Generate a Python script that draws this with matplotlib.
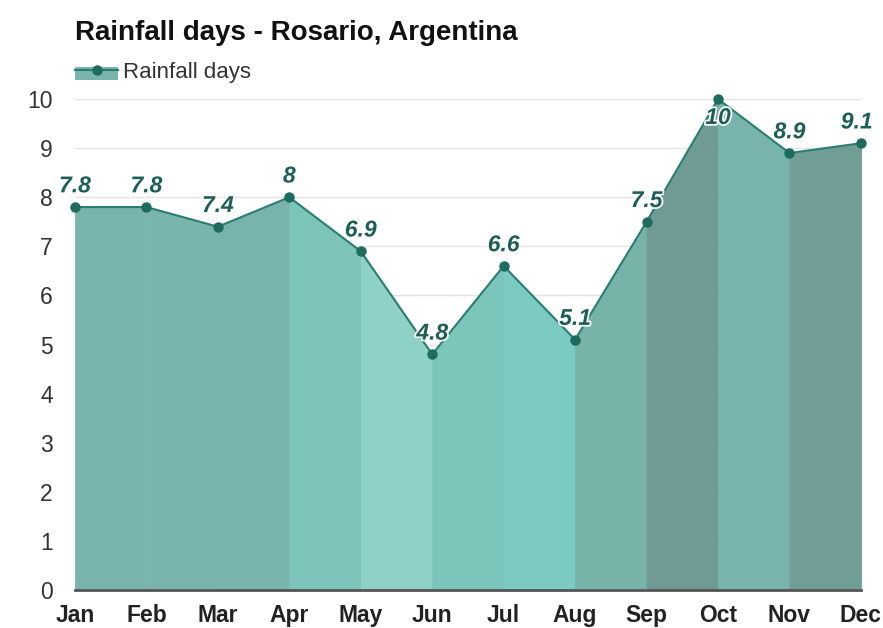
import matplotlib.pyplot as plt
import matplotlib.patheffects as pe
from matplotlib.patches import Rectangle
from matplotlib.lines import Line2D

months = ['Jan', 'Feb', 'Mar', 'Apr', 'May', 'Jun', 'Jul', 'Aug', 'Sep', 'Oct', 'Nov', 'Dec']
rain_days = [7.8, 7.8, 7.4, 8.0, 6.9, 4.8, 6.6, 5.1, 7.5, 10.0, 8.9, 9.1]
labels = ['7.8', '7.8', '7.4', '8', '6.9', '4.8', '6.6', '5.1', '7.5', '10', '8.9', '9.1']
# fill colour of each month-to-month band
band_colors = ['#79b5ac', '#79b5ac', '#78b4ab', '#7cc3b9', '#8fd0c7', '#7bc5bb',
               '#7bcbc0', '#77b3a9', '#6f9b94', '#78b4ab', '#709d96']

plt.rcParams['font.family'] = ['Liberation Sans', 'DejaVu Sans']

fig = plt.figure(figsize=(8.83, 6.28), dpi=100)
ax = fig.add_axes([0.0849, 0.0605, 0.8901, 0.7818])

x = list(range(len(months)))

# area, one band per interval
for i in range(len(x) - 1):
    ax.fill_between(x[i:i + 2], rain_days[i:i + 2], 0, facecolor=band_colors[i],
                    edgecolor=band_colors[i], linewidth=0.6, zorder=2)

ax.plot(x, rain_days, color='#2b7d71', linewidth=1.5, zorder=3)
ax.plot(x, rain_days, 'o', color='#1e6b5f', markersize=6.5, zorder=4, clip_on=False)

# value labels
halo = [pe.withStroke(linewidth=2.5, foreground='white')]
for i, (v, t) in enumerate(zip(rain_days, labels)):
    dx, dy, va = 0, 7, 'bottom'
    if v == max(rain_days):
        dy, va = -5, 'top'
    if i == len(x) - 1:
        dx = -3
    ax.annotate(t, (x[i], v), xytext=(dx, dy), textcoords='offset points',
                ha='center', va=va, fontsize=16.5, fontweight='bold', fontstyle='italic',
                color='#1f5e56', zorder=5, path_effects=halo)

ax.set_xlim(0, len(x) - 1)
ax.set_ylim(0, 10)
ax.set_yticks(range(0, 11))
ax.set_xticks(x)
ax.set_xticklabels(months, fontsize=16.5, fontweight='bold', color='#222222')
ax.tick_params(axis='x', length=0, pad=10)
ax.tick_params(axis='y', length=0, pad=16, labelsize=16.5, labelcolor='#333333')

ax.grid(axis='y', color='#e4e4e4', linewidth=1, zorder=0)
ax.set_axisbelow(True)
for s in ['top', 'right', 'left']:
    ax.spines[s].set_visible(False)
ax.spines['bottom'].set_color('#555555')
ax.spines['bottom'].set_linewidth(2)
ax.spines['bottom'].set_zorder(6)

fig.text(0.0849, 0.947, 'Rainfall days - Rosario, Argentina', fontsize=20, fontweight='bold',
         color='#111111', va='center', ha='left')

# legend
fig.add_artist(Rectangle((0.0849, 0.873), 0.0487, 0.0205, transform=fig.transFigure,
                         facecolor='#79b5ac', edgecolor='none'))
fig.add_artist(Line2D([0.0849, 0.1336], [0.889, 0.889], transform=fig.transFigure,
                      color='#2b7d71', linewidth=1.5))
fig.add_artist(Line2D([0.1093], [0.889], transform=fig.transFigure, marker='o',
                      color='#1e6b5f', markersize=6.5))
fig.text(0.139, 0.884, 'Rainfall days', fontsize=16, color='#333333', va='center', ha='left')

fig.savefig('out.png', dpi=100, facecolor='white')
